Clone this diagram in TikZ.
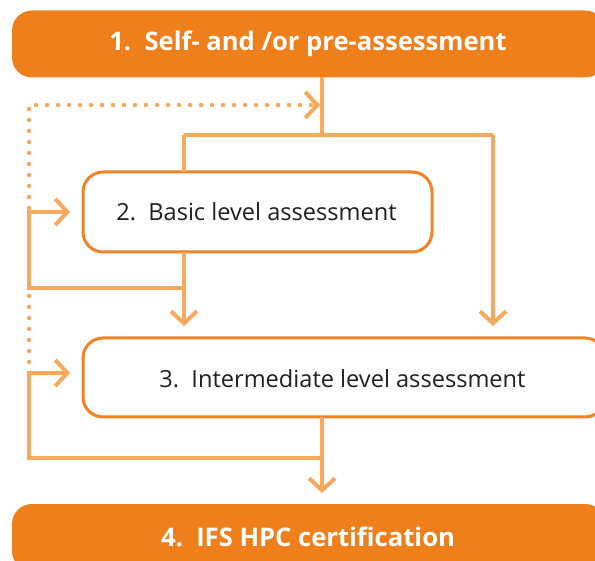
\documentclass[tikz,border=0pt]{standalone}
\usepackage{fontspec}
\setmainfont{Open Sans}
\usetikzlibrary{arrows.meta}
\definecolor{boxfill}{HTML}{EF7F1A}
\definecolor{boxline}{HTML}{F08326}
\definecolor{conn}{HTML}{F7A95E}
\definecolor{txt}{HTML}{231F20}
\tikzset{
  bigbox/.style={fill=boxfill, draw=none, rounded corners=20pt, inner sep=0pt},
  bigtext/.style={text=white, font=\fontsize{25.6}{30}\selectfont\bfseries, inner sep=0pt},
  smallbox/.style={fill=white, draw=boxline, line width=3pt, rounded corners=20pt, inner sep=0pt},
  smalltext/.style={text=txt, font=\fontsize{23.6}{28}\selectfont, inner sep=0pt},
  conline/.style={draw=conn, line width=4pt},
  conarrow/.style={conline, -{Straight Barb[length=12pt,width=26pt]}},
  dotline/.style={draw=conn, line width=4.5pt, line cap=round, dash pattern=on 0pt off 11pt},
}
\begin{document}
\begin{tikzpicture}[x=1pt,y=-1pt]
\useasboundingbox (0,0) rectangle (595,561);
\node[bigbox, minimum width=593pt, minimum height=67pt] (b1) at (308.5,44) {};
\node[bigtext] (t1) at (308,44) {1.\ \ Self- and /or pre-assessment};
\node[smallbox, minimum width=349pt, minimum height=80pt] (b2) at (257.5,212) {};
\node[smalltext] (t2) at (256.5,212) {2.\ \ Basic level assessment};
\node[smallbox, minimum width=522pt, minimum height=79pt] (b3) at (344,377.5) {};
\node[smalltext] (t3) at (342.5,379) {3.\ \ Intermediate level assessment};
\node[bigbox, minimum width=593pt, minimum height=67pt] (b4) at (308.5,537.5) {};
\node[bigtext] (t4) at (308,537) {4.\ \ IFS HPC certification};
% coordinates
\coordinate (b1out) at (322,77);
\coordinate (split) at (322,135);
\coordinate (sl) at (184,135);
\coordinate (sr) at (493,135);
\coordinate (b2in) at (184,172);
\coordinate (a3r) at (493,326);
\coordinate (b2out) at (184,252);
\coordinate (a3l) at (184,326);
\coordinate (r2) at (184,288);
\coordinate (l2b) at (29,288);
\coordinate (l2t) at (29,212);
\coordinate (a2) at (70,212);
\coordinate (b3out) at (322,417);
\coordinate (a4) at (322,493);
\coordinate (r3) at (322,458);
\coordinate (l3b) at (29,458);
\coordinate (l3t) at (29,373);
\coordinate (a3in) at (70,373);
\coordinate (dtop) at (29,105);
\coordinate (darr) at (320,105);
\coordinate (dpre) at (319,105);
% dotted
\draw[dotline] (l3t) -- (dtop) -- (darr);
\draw[conarrow] (dpre) -- (darr);
% solid
\draw[conline] (b1out) -- (split);
\draw[conline] (sl) -- (sr);
\draw[conline] (sl) -- (b2in);
\draw[conarrow] (sr) -- (a3r);
\draw[conarrow] (b2out) -- (a3l);
\draw[conarrow] (r2) -- (l2b) -- (l2t) -- (a2);
\draw[conarrow] (b3out) -- (a4);
\draw[conarrow] (r3) -- (l3b) -- (l3t) -- (a3in);
\end{tikzpicture}
\end{document}
